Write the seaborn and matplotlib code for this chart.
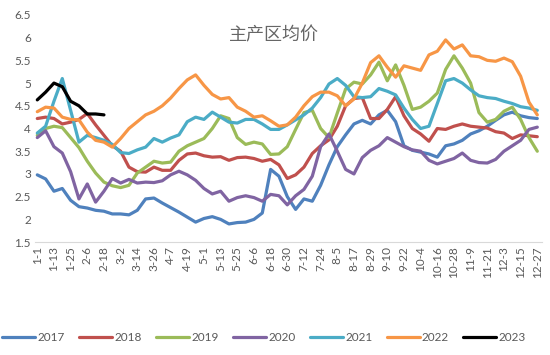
import numpy as np
import pandas as pd
import seaborn as sns
import matplotlib.pyplot as plt

# one reading every 6 days, starting 1-1
tick_labels = ['1-1', '1-13', '1-25', '2-6', '2-18', '3-2', '3-14', '3-26', '4-7', '4-19',
               '5-1', '5-13', '5-25', '6-6', '6-18', '6-30', '7-12', '7-24', '8-5', '8-17',
               '8-29', '9-10', '9-22', '10-4', '10-16', '10-28', '11-9', '11-21', '12-3',
               '12-15', '12-27']

y2017 = [2.98, 2.89, 2.62, 2.68, 2.42, 2.28, 2.25, 2.2, 2.18, 2.12,
         2.12, 2.1, 2.2, 2.45, 2.47, 2.36, 2.26, 2.16, 2.05, 1.94,
         2.02, 2.06, 2.0, 1.9, 1.93, 1.94, 2.0, 2.14, 3.1, 2.95,
         2.5, 2.22, 2.45, 2.4, 2.75, 3.2, 3.6, 3.86, 4.1, 4.18,
         4.1, 4.3, 4.4, 4.15, 3.62, 3.52, 3.48, 3.44, 3.37, 3.62,
         3.66, 3.74, 3.88, 3.95, 4.05, 4.18, 4.3, 4.36, 4.28, 4.24, 4.22]
y2018 = [4.22, 4.25, 4.22, 4.1, 4.14, 4.2, 4.33, 4.08, 3.85, 3.62,
         3.5, 3.15, 3.05, 3.04, 3.15, 3.08, 3.08, 3.3, 3.44, 3.46,
         3.4, 3.37, 3.38, 3.3, 3.36, 3.37, 3.34, 3.28, 3.32, 3.2,
         2.9, 2.98, 3.15, 3.45, 3.62, 3.75, 4.05, 4.5, 4.66, 4.68,
         4.22, 4.22, 4.42, 4.7, 4.28, 4.0, 3.88, 3.72, 4.0, 3.98,
         4.05, 4.1, 4.05, 4.03, 4.01, 3.93, 3.9, 3.78, 3.86, 3.84, 3.82]
y2019 = [3.85, 4.0, 4.05, 4.02, 3.8, 3.58, 3.28, 3.02, 2.82, 2.74,
         2.7, 2.75, 3.02, 3.15, 3.28, 3.24, 3.26, 3.5, 3.62, 3.7,
         3.78, 4.0, 4.28, 4.22, 3.8, 3.65, 3.7, 3.66, 3.43, 3.44,
         3.6, 3.98, 4.35, 4.4, 4.0, 3.8, 4.34, 4.87, 5.02, 4.98,
         5.18, 5.46, 5.05, 5.4, 4.95, 4.42, 4.47, 4.6, 4.78, 5.3,
         5.6, 5.33, 5.0, 4.35, 4.14, 4.2, 4.38, 4.47, 4.2, 3.8, 3.5]
y2020 = [3.8, 3.95, 3.6, 3.46, 3.05, 2.45, 2.78, 2.38, 2.62, 2.9,
         2.8, 2.88, 2.8, 2.82, 2.81, 2.85, 2.98, 3.06, 2.98, 2.86,
         2.68, 2.56, 2.62, 2.4, 2.48, 2.52, 2.48, 2.4, 2.55, 2.52,
         2.32, 2.52, 2.66, 2.95, 3.6, 3.88, 3.5, 3.1, 3.0, 3.36,
         3.52, 3.62, 3.8, 3.7, 3.6, 3.53, 3.5, 3.3, 3.22, 3.28,
         3.34, 3.46, 3.3, 3.25, 3.24, 3.32, 3.5, 3.62, 3.74, 3.98, 4.03]
y2021 = [3.9, 4.05, 4.6, 5.1, 4.4, 3.7, 3.85, 3.8, 3.74, 3.65,
         3.47, 3.45, 3.53, 3.59, 3.78, 3.7, 3.79, 3.86, 4.15, 4.25,
         4.2, 4.36, 4.25, 4.14, 4.12, 4.2, 4.2, 4.1, 3.98, 3.98,
         4.08, 4.19, 4.3, 4.45, 4.68, 4.98, 5.1, 4.95, 4.7, 4.68,
         4.7, 4.88, 4.82, 4.74, 4.45, 4.2, 4.0, 4.05, 4.55, 5.05,
         5.1, 5.0, 4.85, 4.72, 4.68, 4.66, 4.6, 4.55, 4.48, 4.45, 4.4]
y2022 = [4.37, 4.47, 4.45, 4.25, 4.2, 4.19, 3.92, 3.74, 3.7, 3.59,
         3.78, 4.0, 4.15, 4.3, 4.38, 4.5, 4.67, 4.88, 5.07, 5.18,
         4.95, 4.75, 4.65, 4.68, 4.47, 4.38, 4.25, 4.28, 4.17, 4.05,
         4.08, 4.25, 4.5, 4.7, 4.8, 4.8, 4.72, 4.5, 4.65, 5.0,
         5.45, 5.6, 5.35, 5.13, 5.38, 5.33, 5.28, 5.62, 5.7, 5.95,
         5.75, 5.84, 5.6, 5.58, 5.5, 5.48, 5.55, 5.47, 5.15, 4.58, 4.3]
y2023 = [4.63, 4.8, 5.0, 4.92, 4.6, 4.5, 4.32, 4.32, 4.3]

series = {'2017': y2017, '2018': y2018, '2019': y2019, '2020': y2020,
          '2021': y2021, '2022': y2022, '2023': y2023}
colors = ['#4F81BD', '#C0504D', '#9BBB59', '#8064A2', '#4BACC6', '#F79646', '#000000']

sns.set_style('white')
plt.rcParams['font.family'] = ['Lato', 'Noto Sans CJK SC', 'DejaVu Sans']

fig = plt.figure(figsize=(5.5, 3.55), dpi=100)
ax = fig.add_axes([0.064, 0.318, 0.922, 0.64])

for (name, vals), c in zip(series.items(), colors):
    sns.lineplot(x=np.arange(len(vals)), y=vals, color=c, linewidth=2.3,
                 label=name, ax=ax)

ax.set_xlim(-0.25, 60.6)
ax.set_ylim(1.5, 6.5)
ax.set_yticks(np.arange(1.5, 6.51, 0.5))
ax.set_yticklabels([f'{v:g}' for v in np.arange(1.5, 6.51, 0.5)])
ax.set_xticks(np.arange(0, 61, 2))
ax.set_xticklabels(tick_labels, rotation=90)
ax.tick_params(axis='both', length=0, labelsize=8.5, colors='#595959', pad=3)
for s in ['top', 'right', 'left']:
    ax.spines[s].set_visible(False)
ax.spines['bottom'].set_color('#D9D9D9')
ax.spines['bottom'].set_linewidth(0.8)

ax.set_title('主产区均价', fontsize=13, color='#666666', y=0.85, x=0.47,
             family=['Noto Sans CJK SC', 'DejaVu Sans'], fontweight='light')

ax.legend(loc='center', bbox_to_anchor=(0.48, 0.05), bbox_transform=fig.transFigure,
          ncol=7, frameon=False, fontsize=8.5, handlelength=2.8, columnspacing=1.2,
          handletextpad=0.2, labelcolor='#595959')

fig.savefig('out.png', dpi=100)
